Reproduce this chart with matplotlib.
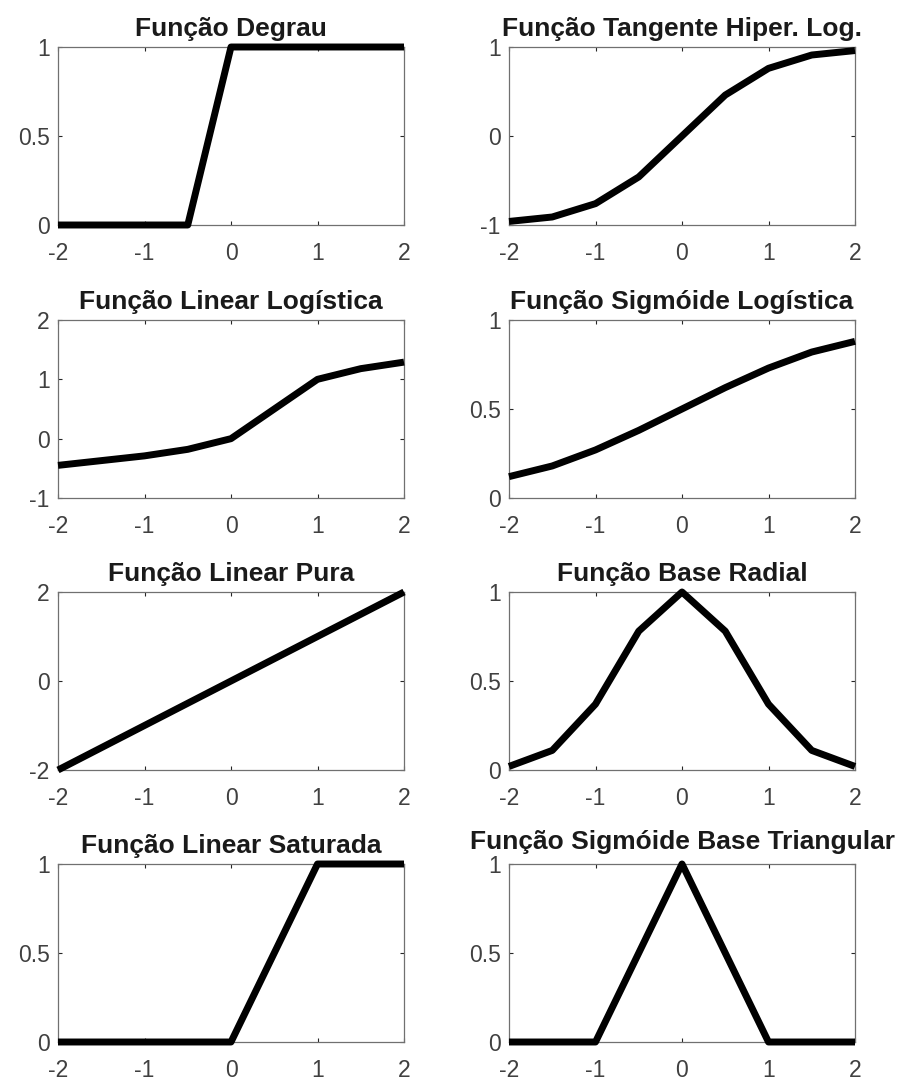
import matplotlib
matplotlib.use("Agg")
import matplotlib.pyplot as plt

x = [-2, -1.5, -1, -0.5, 0, 0.5, 1, 1.5, 2]

titles = ["Função Degrau", "Função Tangente Hiper. Log.",
          "Função Linear Logística", "Função Sigmóide Logística",
          "Função Linear Pura", "Função Base Radial",
          "Função Linear Saturada", "Função Sigmóide Base Triangular"]

y_degrau = [0, 0, 0, 0, 1, 1, 1, 1, 1]
y_tanh = [-0.96, -0.91, -0.76, -0.46, 0, 0.46, 0.76, 0.91, 0.96]
y_linlog = [-0.45, -0.37, -0.29, -0.18, 0, 0.5, 1.0, 1.18, 1.29]
y_sigmoid = [0.12, 0.18, 0.27, 0.38, 0.5, 0.62, 0.73, 0.82, 0.88]
y_purelin = [-2, -1.5, -1, -0.5, 0, 0.5, 1, 1.5, 2]
y_radbas = [0.02, 0.11, 0.37, 0.78, 1, 0.78, 0.37, 0.11, 0.02]
y_satlin = [0, 0, 0, 0, 0, 0.5, 1, 1, 1]
y_tribas = [0, 0, 0, 0.5, 1, 0.5, 0, 0, 0]

series = [y_degrau, y_tanh, y_linlog, y_sigmoid, y_purelin, y_radbas, y_satlin, y_tribas]
ylims = [(0, 1), (-1, 1), (-1, 2), (0, 1), (-2, 2), (0, 1), (0, 1), (0, 1)]
yticks = [[0, 0.5, 1], [-1, 0, 1], [-1, 0, 1, 2], [0, 0.5, 1],
          [-2, 0, 2], [0, 0.5, 1], [0, 0.5, 1], [0, 0.5, 1]]
xticks = [-2, -1, 0, 1, 2]

plt.rcParams['font.family'] = ['Liberation Sans', 'DejaVu Sans']

W, H = 909, 1083
fig = plt.figure(figsize=(W / 100, H / 100), dpi=100)

lefts = [58, 509]
width = 346
tops = [47, 320, 592, 864]
height = 178

for i in range(8):
    r, c = divmod(i, 2)
    ax = fig.add_axes([lefts[c] / W, 1 - (tops[r] + height) / H, width / W, height / H])
    ax.plot(x, series[i], color='black', lw=5, solid_capstyle='butt', clip_on=False, zorder=3)
    ax.set_xlim(-2, 2)
    ax.set_ylim(*ylims[i])
    ax.set_xticks(xticks)
    ax.set_yticks(yticks[i])
    ax.set_xticklabels([f"{t:g}" for t in xticks])
    ax.set_yticklabels([f"{t:g}" for t in yticks[i]])
    ax.tick_params(direction='in', length=3, width=0.8, color='#262626',
                   labelsize=16.5, labelcolor='#404040', top=True, right=True)
    ax.tick_params(axis='x', pad=12)
    ax.tick_params(axis='y', pad=6)
    for s in ax.spines.values():
        s.set_color('#707070')
        s.set_linewidth(0.9)
    ax.set_title(titles[i], fontsize=19, fontweight='bold', color='#1a1a1a',
                 pad=11 if i == 7 else 8)

fig.savefig("out.png", dpi=100)
